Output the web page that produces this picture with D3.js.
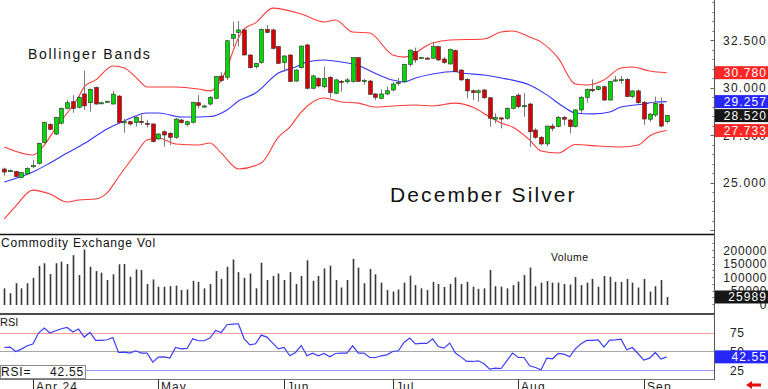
<!DOCTYPE html>
<html>
<head>
<meta charset="utf-8">
<script src="https://cdn.jsdelivr.net/npm/d3@7"></script>
<style>
  body { margin: 0; background: #fff; }
  svg text { font-family: "Liberation Sans", Arial, sans-serif; }
</style>
</head>
<body>
<div id="chart"></div>
<script>
// December silver, daily bars (index 0 = late March)
const open = [
  25.71, 25.6, 25.57, 25.27, 25.45, 25.85, 26.01, 27.1, 28.06, 27.55,
  28.12, 28.9, 29.25, 28.96, 29.66, 29.2, 30.0, 29.2, 29.25, 29.13,
  29.55, 28.2, 28.2, 28.15, 28.22, 28.12, 28.08, 27.29, 27.67, 27.59,
  27.38, 28.29, 28.05, 28.17, 29.2, 29.0, 29.13, 29.43, 30.6, 30.54,
  32.59, 32.9, 33.03, 31.71, 31.09, 31.31, 33.06, 33.03, 32.15, 31.31,
  31.71, 30.34, 31.04, 32.24, 29.96, 30.48, 30.04, 30.54, 29.7, 30.33,
  30.3, 30.31, 31.57, 30.36, 30.34, 29.66, 29.43, 29.66, 29.87, 30.25,
  30.31, 31.22, 31.89, 31.55, 31.55, 31.54, 32.15, 31.5, 31.24, 31.94,
  30.92, 30.43, 29.83, 29.73, 29.87, 29.46, 28.33, 28.4, 28.38, 28.9,
  29.6, 29.0, 29.13, 27.76, 27.38, 27.03, 27.97, 27.94, 28.43, 28.29,
  27.94, 28.82, 29.48, 29.9, 29.9, 30.04, 29.34, 30.38, 30.4, 30.43,
  29.52, 29.82, 29.22, 28.33, 28.55, 29.13, 28.2
];
const high = [
  25.78, 25.68, 25.62, 25.55, 25.8, 26.2, 27.1, 28.2, 28.12, 28.45,
  28.95, 29.35, 29.6, 29.55, 30.88, 29.95, 30.05, 29.25, 29.3, 29.83,
  29.6, 28.35, 28.25, 28.55, 28.6, 28.3, 28.1, 27.6, 27.75, 27.65,
  28.4, 28.35, 28.25, 29.25, 29.6, 29.1, 29.55, 30.6, 30.8, 32.5,
  33.46, 33.5, 33.1, 31.75, 31.3, 33.1, 33.29, 33.1, 32.2, 31.7,
  31.75, 30.95, 32.2, 32.3, 30.65, 30.55, 31.1, 30.6, 30.45, 30.4,
  30.5, 31.6, 31.6, 30.45, 30.4, 29.7, 29.9, 30.05, 30.3, 30.5,
  31.25, 32.0, 32.1, 31.6, 31.6, 32.41, 32.2, 31.6, 32.05, 32.0,
  30.95, 30.5, 29.9, 29.9, 29.9, 29.5, 28.64, 28.45, 28.95, 29.55,
  29.7, 29.7, 29.2, 27.85, 27.45, 28.0, 28.1, 28.5, 28.5, 28.35,
  28.85, 29.55, 29.95, 30.43, 30.1, 30.1, 30.35, 30.6, 30.6, 30.5,
  29.85, 29.9, 29.3, 28.65, 29.52, 29.47, 28.55
];
const low = [
  25.36, 25.55, 25.28, 25.22, 25.4, 25.75, 25.95, 27.05, 27.75, 27.5,
  28.05, 28.85, 28.67, 28.9, 28.82, 28.73, 29.1, 29.15, 29.22, 29.1,
  28.1, 27.62, 28.0, 27.95, 28.03, 27.9, 27.1, 27.25, 26.88, 26.97,
  27.3, 28.1, 27.95, 28.1, 28.9, 28.95, 29.05, 29.4, 30.3, 30.4,
  32.15, 32.15, 31.7, 31.0, 31.0, 31.25, 32.85, 32.0, 31.25, 30.83,
  30.3, 30.3, 31.0, 29.9, 29.9, 30.0, 29.95, 29.48, 29.65, 29.78,
  30.2, 30.25, 30.3, 30.15, 29.6, 29.34, 29.4, 29.6, 29.8, 30.1,
  30.25, 31.1, 31.3, 31.5, 31.5, 31.5, 31.4, 31.25, 31.2, 30.8,
  30.35, 29.43, 29.34, 29.25, 29.4, 27.94, 28.12, 27.85, 28.3, 28.85,
  28.9, 28.46, 26.88, 27.3, 26.95, 26.9, 27.7, 27.9, 28.0, 27.59,
  27.9, 28.66, 29.2, 29.75, 29.85, 29.3, 29.3, 30.3, 30.2, 29.5,
  29.45, 29.15, 28.03, 28.2, 28.45, 27.9, 28.1
];
const close = [
  25.55, 25.63, 25.31, 25.52, 25.75, 25.89, 27.06, 28.17, 27.8, 28.43,
  28.9, 29.2, 28.9, 29.48, 29.03, 29.9, 29.13, 29.2, 29.28, 29.65,
  28.15, 28.2, 28.08, 28.43, 28.2, 28.11, 27.15, 27.55, 27.5, 27.38,
  28.34, 28.15, 28.2, 29.22, 29.06, 29.03, 29.48, 30.57, 30.36, 32.46,
  32.8, 33.03, 31.71, 31.04, 31.27, 33.06, 32.9, 32.06, 31.27, 31.66,
  30.31, 30.92, 32.18, 29.96, 30.61, 30.08, 30.48, 29.73, 30.4, 30.3,
  30.4, 31.57, 30.31, 30.37, 29.64, 29.48, 29.66, 29.83, 30.18, 30.27,
  31.22, 31.97, 31.45, 31.58, 31.53, 32.15, 31.45, 31.31, 32.01, 30.83,
  30.4, 29.82, 29.73, 29.83, 29.46, 28.38, 28.42, 28.35, 28.9, 29.52,
  28.99, 29.05, 27.67, 27.38, 27.03, 27.97, 27.85, 28.43, 28.33, 27.94,
  28.82, 29.48, 29.9, 29.83, 30.04, 29.34, 30.31, 30.4, 30.42, 29.52,
  29.82, 29.2, 28.34, 28.6, 29.17, 27.97, 28.52
];
const volume = [
  58000, 40000, 77000, 58000, 77000, 97000, 141000, 151000, 111000, 151000,
  157000, 148000, 181000, 107000, 202000, 138000, 122000, 116000, 89000, 110000,
  147000, 148000, 101000, 128000, 126000, 74000, 91000, 64000, 64000, 66000,
  68000, 52000, 54000, 86000, 82000, 58000, 74000, 122000, 93000, 138000,
  165000, 118000, 97000, 113000, 58000, 153000, 89000, 104000, 113000, 89000,
  118000, 74000, 104000, 162000, 86000, 104000, 132000, 142000, 89000, 61000,
  89000, 167000, 135000, 77000, 130000, 110000, 79000, 52000, 46000, 54000,
  79000, 105000, 70000, 58000, 52000, 82000, 74000, 63000, 74000, 99000,
  74000, 82000, 64000, 56000, 58000, 126000, 66000, 64000, 58000, 70000,
  83000, 107000, 135000, 66000, 79000, 85000, 79000, 79000, 74000, 72000,
  100000, 70000, 79000, 93000, 64000, 104000, 101000, 82000, 82000, 93000,
  79000, 61000, 93000, 46000, 66000, 89000, 25989
];
const rsi = [
  55.1, 55.6, 49.7, 52.9, 57.4, 59.6, 74.4, 81.0, 74.4, 77.4,
  80.1, 81.9, 75.7, 79.7, 69.0, 75.2, 64.5, 64.5, 65.4, 68.5,
  48.4, 48.9, 47.6, 50.7, 47.6, 47.6, 35.5, 42.2, 42.6, 40.9,
  55.1, 53.3, 53.8, 66.7, 64.1, 64.1, 67.6, 77.9, 75.2, 85.5,
  86.4, 86.8, 66.7, 58.7, 60.0, 71.7, 69.0, 61.0, 53.3, 55.1,
  44.0, 48.4, 57.8, 44.0, 47.6, 44.0, 47.1, 42.6, 47.1, 47.6,
  47.6, 57.4, 47.6, 47.6, 41.7, 41.7, 44.0, 45.3, 49.7, 50.7,
  61.8, 67.6, 60.0, 60.5, 60.5, 66.7, 56.4, 54.2, 61.0, 47.6,
  42.2, 36.4, 36.4, 37.3, 33.3, 26.1, 27.5, 27.0, 37.3, 47.6,
  41.7, 41.7, 30.6, 28.3, 25.2, 40.9, 40.0, 47.1, 46.2, 42.6,
  53.3, 60.0, 64.5, 64.5, 65.4, 55.6, 65.0, 65.4, 66.3, 52.0,
  55.1, 46.7, 38.2, 40.9, 48.4, 39.6, 42.55
];

// Bollinger band readings: [bar index, price]
const upperBand = [
  [0, 26.87], [5, 26.45], [7, 26.97], [9, 27.87], [13, 29.5], [14, 30.03], [16, 30.4],
  [19, 31.13], [21, 31.03], [23, 30.55], [25, 30.03], [30, 30.03], [34, 29.92],
  [36, 29.82], [38, 30.4], [39, 31.03], [40, 31.87], [41, 32.6], [42, 33.08],
  [44, 33.4], [47, 34.18], [52, 33.87], [56, 33.45], [58, 33.55], [61, 32.92],
  [64, 32.87], [67, 31.97], [68, 31.71], [70, 31.6], [75, 32.34], [78, 32.5],
  [84, 32.55], [87, 32.92], [89, 32.97], [92, 32.66], [94, 32.39], [97, 31.55],
  [100, 30.18], [102, 30.13], [105, 30.4], [108, 31.03], [110, 31.08], [113, 30.87],
  [116, 30.78]
];
const midBand = [
  [0, 25.03], [5, 25.55], [8, 26.03], [11, 26.55], [14, 27.05], [18, 27.82],
  [21, 28.24], [25, 28.66], [27, 28.66], [31, 28.45], [34, 28.45], [36, 28.47],
  [39, 28.82], [41, 29.29], [44, 29.71], [48, 30.76], [51, 31.08], [53, 31.34],
  [56, 31.45], [59, 31.34], [62, 31.16], [65, 30.74], [68, 30.39], [70, 30.29],
  [72, 30.5], [75, 30.71], [79, 30.84], [80, 30.76], [84, 30.66], [87, 30.5],
  [89, 30.39], [92, 30.13], [95, 29.61], [98, 28.97], [100, 28.66], [103, 28.61],
  [106, 28.71], [108, 28.97], [112, 29.13], [114, 29.24], [116, 29.257]
];
const lowerBand = [
  [0, 23.08], [2, 23.76], [5, 24.6], [8, 24.39], [11, 23.97], [13, 24.08],
  [16, 24.13], [18, 24.45], [20, 25.29], [23, 26.5], [25, 27.24], [27, 27.34],
  [30, 27.03], [34, 26.97], [36, 27.08], [38, 26.55], [41, 25.71], [45, 26.03],
  [48, 27.39], [50, 27.92], [52, 28.71], [56, 29.45], [59, 29.24], [62, 29.18],
  [65, 28.97], [68, 29.03], [72, 29.08], [75, 29.03], [79, 29.18], [82, 28.97],
  [85, 28.45], [87, 28.13], [89, 27.92], [92, 27.24], [94, 26.66], [97, 26.55],
  [100, 27.0], [104, 26.92], [108, 26.87], [111, 26.97], [113, 27.45], [116, 27.733]
];

const monthLabels = ["Apr 24", "May", "Jun", "Jul", "Aug", "Sep"];
const monthIdx = [5, 27, 49, 68, 90, 112];
const priceTicks = [25, 27.5, 30, 32.5];
const volumeTicks = [0, 50000, 100000, 150000, 200000];
const rsiTicks = [25, 50, 75];

const width = 768;
const height = 389;
const axisX = 714.5;

const svg = d3.select("#chart").append("svg")
  .attr("width", width)
  .attr("height", height);

const x = d3.scaleLinear().domain([0, 116]).range([4.3, 666.7]);
const yP = d3.scaleLinear().domain([25, 32.5]).range([182.5, 40]);
const yV = d3.scaleLinear().domain([0, 200000]).range([304, 250]);
const yR = d3.scaleLinear().domain([25, 75]).range([370, 332.6]);

svg.append("clipPath").attr("id", "clipP")
  .append("rect").attr("x", 0).attr("y", 0).attr("width", axisX).attr("height", 234);

// ---- price panel ----
const gp = svg.append("g").attr("clip-path", "url(#clipP)");

const bandLine = d3.line()
  .x(d => x(d[0]))
  .y(d => yP(d[1]))
  .curve(d3.curveMonotoneX);

gp.append("path").attr("d", bandLine(upperBand))
  .attr("fill", "none").attr("stroke", "#ff3b3b").attr("stroke-width", 1.1);
gp.append("path").attr("d", bandLine(lowerBand))
  .attr("fill", "none").attr("stroke", "#ff3b3b").attr("stroke-width", 1.1);
gp.append("path").attr("d", bandLine(midBand))
  .attr("fill", "none").attr("stroke", "#3434ff").attr("stroke-width", 1.1);

const bars = d3.range(open.length);

gp.selectAll(".wick").data(bars).join("line")
  .attr("x1", i => Math.round(x(i)) + 0.5)
  .attr("x2", i => Math.round(x(i)) + 0.5)
  .attr("y1", i => yP(high[i]))
  .attr("y2", i => yP(low[i]))
  .attr("stroke", "#7a7a7a")
  .attr("stroke-width", 1);

gp.selectAll(".body").data(bars).join("rect")
  .attr("x", i => Math.round(x(i)) - 1.5)
  .attr("width", 4)
  .attr("y", i => yP(Math.max(open[i], close[i])))
  .attr("height", i => Math.max(1.2, Math.abs(yP(open[i]) - yP(close[i]))))
  .attr("fill", i => close[i] >= open[i] ? "#00d800" : "#d80000")
  .attr("stroke", "#303030")
  .attr("stroke-width", 0.6);

gp.append("text")
  .attr("x", 28).attr("y", 59)
  .attr("font-size", 14).attr("letter-spacing", 1.7)
  .attr("fill", "#111")
  .text("Bollinger Bands");

gp.append("text")
  .attr("x", 390).attr("y", 202)
  .attr("font-size", 21).attr("letter-spacing", 2.1)
  .attr("fill", "#111")
  .text("December Silver");

// ---- volume panel ----
svg.selectAll(".vol").data(bars).join("line")
  .attr("x1", i => Math.round(x(i)) + 0.5)
  .attr("x2", i => Math.round(x(i)) + 0.5)
  .attr("y1", yV(0) + 1)
  .attr("y2", i => yV(volume[i]))
  .attr("stroke", "#383838")
  .attr("stroke-width", 1.6);

svg.append("text")
  .attr("x", 1).attr("y", 247)
  .attr("font-size", 12).attr("letter-spacing", 0.8)
  .attr("fill", "#111")
  .text("Commodity Exchange Vol");

svg.append("text")
  .attr("x", 551).attr("y", 261)
  .attr("font-size", 10.5).attr("letter-spacing", 0.4)
  .attr("fill", "#111")
  .text("Volume");

// ---- RSI panel ----
const rsiLines = [
  { v: 75, c: "#ff9a9a" },
  { v: 50, c: "#a8a8a8" },
  { v: 25, c: "#9a9aff" }
];
svg.selectAll(".rsiRef").data(rsiLines).join("line")
  .attr("x1", 0).attr("x2", axisX)
  .attr("y1", d => Math.round(yR(d.v)) + 0.5)
  .attr("y2", d => Math.round(yR(d.v)) + 0.5)
  .attr("stroke", d => d.c)
  .attr("stroke-width", 1);

const rsiLine = d3.line()
  .x((d, i) => x(i))
  .y(d => yR(d));

svg.append("path").attr("d", rsiLine(rsi))
  .attr("fill", "none").attr("stroke", "#3c3cff").attr("stroke-width", 1.2);

svg.append("text")
  .attr("x", 0).attr("y", 326)
  .attr("font-size", 11).attr("fill", "#111")
  .text("RSI");

const lastRsi = rsi[rsi.length - 1];
svg.append("rect")
  .attr("x", 0.5).attr("y", 365.5).attr("width", 85).attr("height", 13)
  .attr("fill", "#fff").attr("stroke", "#8a8a8a");
svg.append("text")
  .attr("x", 1).attr("y", 376)
  .attr("font-size", 12).attr("letter-spacing", 0.8).attr("fill", "#111")
  .text("RSI=");
svg.append("text")
  .attr("x", 84).attr("y", 376).attr("text-anchor", "end")
  .attr("font-size", 12).attr("letter-spacing", 0.8).attr("fill", "#111")
  .text(lastRsi.toFixed(2));

// ---- frame lines ----
[234.5, 314].forEach(yy => {
  svg.append("line")
    .attr("x1", 0).attr("x2", axisX).attr("y1", yy).attr("y2", yy)
    .attr("stroke", "#111").attr("stroke-width", 1.6);
});
svg.append("line")
  .attr("x1", 0).attr("x2", axisX).attr("y1", 379.5).attr("y2", 379.5)
  .attr("stroke", "#777").attr("stroke-width", 1);
svg.append("line")
  .attr("x1", axisX).attr("x2", axisX).attr("y1", 0).attr("y2", 380)
  .attr("stroke", "#555").attr("stroke-width", 1);

// right axis minor ticks
const minorP = d3.range(22.5, 35.01, 0.5).filter(v => yP(v) > 1 && yP(v) < 233);
svg.selectAll(".tp").data(minorP).join("line")
  .attr("x1", v => axisX - (v % 2.5 === 0 ? 4 : 2)).attr("x2", axisX)
  .attr("y1", v => Math.round(yP(v)) + 0.5).attr("y2", v => Math.round(yP(v)) + 0.5)
  .attr("stroke", "#666");
const minorV = d3.range(0, 230001, 25000).filter(v => yV(v) > 236);
svg.selectAll(".tv").data(minorV).join("line")
  .attr("x1", axisX - 2).attr("x2", axisX)
  .attr("y1", v => Math.round(yV(v)) + 0.5).attr("y2", v => Math.round(yV(v)) + 0.5)
  .attr("stroke", "#666");

// price labels
svg.selectAll(".lp").data(priceTicks).join("text")
  .attr("x", 767).attr("y", v => yP(v) + 4.5)
  .attr("text-anchor", "end")
  .attr("font-size", 12).attr("letter-spacing", 1.2).attr("fill", "#222")
  .text(v => v.toFixed(3));

svg.selectAll(".lv").data(volumeTicks).join("text")
  .attr("x", 767).attr("y", v => yV(v) + 4.5)
  .attr("text-anchor", "end")
  .attr("font-size", 12).attr("letter-spacing", 0.6).attr("fill", "#222")
  .text(v => v);

svg.selectAll(".lr").data(rsiTicks).join("text")
  .attr("x", 730).attr("y", v => yR(v) + 4.5)
  .attr("font-size", 12).attr("letter-spacing", 0.6).attr("fill", "#222")
  .text(v => v);

// value flags on the right axis
const last = open.length - 1;
const flags = [
  { y: yP(upperBand[upperBand.length - 1][1]), t: upperBand[upperBand.length - 1][1].toFixed(3), c: "#ff2626" },
  { y: yP(midBand[midBand.length - 1][1]), t: midBand[midBand.length - 1][1].toFixed(3), c: "#2626ff" },
  { y: yP(close[last]), t: close[last].toFixed(3), c: "#161616" },
  { y: yP(lowerBand[lowerBand.length - 1][1]), t: lowerBand[lowerBand.length - 1][1].toFixed(3), c: "#ff2626" },
  { y: yV(volume[last]), t: String(volume[last]), c: "#161616" },
  { y: yR(lastRsi), t: lastRsi.toFixed(2), c: "#2626ff" }
];
const fg = svg.selectAll(".flag").data(flags).join("g");
fg.append("rect")
  .attr("x", axisX + 0.5).attr("y", d => d.y - 6.5)
  .attr("width", width - axisX).attr("height", 13)
  .attr("fill", d => d.c);
fg.append("text")
  .attr("x", 767).attr("y", d => d.y + 4.5)
  .attr("text-anchor", "end")
  .attr("font-size", 12).attr("letter-spacing", 1.1).attr("fill", "#fff")
  .text(d => d.t);

// ---- date axis ----
svg.selectAll(".dt").data(monthIdx).join("line")
  .attr("x1", i => Math.round(x(i)) + 0.5).attr("x2", i => Math.round(x(i)) + 0.5)
  .attr("y1", 379).attr("y2", 389)
  .attr("stroke", "#333");
svg.selectAll(".dl").data(monthIdx).join("text")
  .attr("x", i => Math.round(x(i)) + 3).attr("y", 391)
  .attr("font-size", 12).attr("letter-spacing", 1.1).attr("fill", "#222")
  .text((i, k) => monthLabels[k]);

// little red arrow, bottom right
svg.append("path")
  .attr("d", "M746,385 L752,381 L752,383.5 L761,383.5 L761,386.5 L752,386.5 L752,389 Z")
  .attr("fill", "#e01010");
</script>
</body>
</html>
